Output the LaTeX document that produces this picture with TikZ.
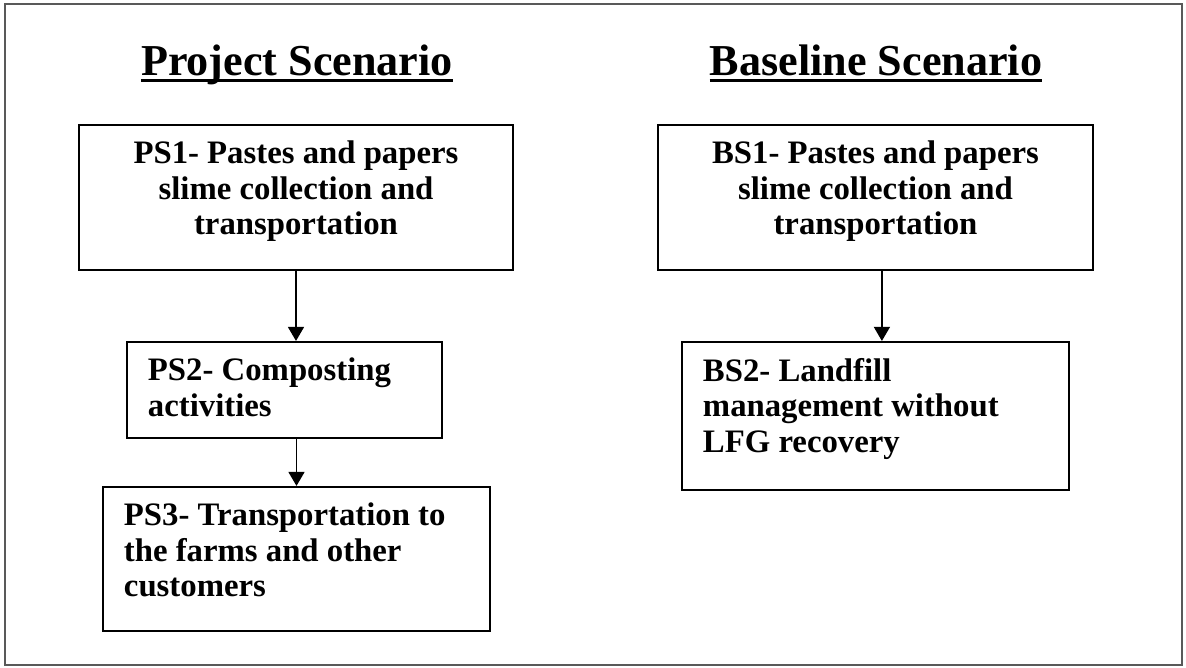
\documentclass[tikz,border=0pt]{standalone}
\usepackage{fontspec}
\setmainfont{Liberation Serif}
\usetikzlibrary{arrows.meta}
\def\boxbody(#1:#2)#3{\parbox[c][#2][t]{#1}{#3}}

\begin{document}
\begin{tikzpicture}[x=0.025cm, y=-0.025cm,
		stepbox/.style={draw, line width=1.5pt, inner xsep=0.525cm, inner ysep=0.4cm, font=\fontsize{23.3}{25.3}\selectfont\bfseries},
		heading/.style={inner sep=0, anchor=base, font=\fontsize{31.4}{34}\selectfont\bfseries},
		flow/.style={line width=1pt, -{Triangle[width=0.4cm,length=0.35cm]}}]
				\useasboundingbox (0, 0) rectangle (1186, 667);
				\draw[black!65, line width=1.4pt] (5, 4) rectangle (1182, 665);
				
				\node[heading] (pstitle) at (297, 75) {Project Scenario};
				\draw[line width=2pt] ([yshift=-0.14cm]pstitle.base west) -- ([yshift=-0.14cm]pstitle.base east);
				\node[heading] (bstitle) at (876, 75) {Baseline Scenario};
				\draw[line width=2pt] ([yshift=-0.14cm]bstitle.base west) -- ([yshift=-0.14cm]bstitle.base east);
				
				\node[stepbox] (ps1) at (296, 197.5) {\boxbody(9.8cm:2.825cm){\centering PS1- Pastes and papers\\ slime collection and\\ transportation}};
				\node[stepbox] (ps2) at (284.5, 390) {\boxbody(6.825cm:1.6cm){\raggedright PS2- Composting\\ activities}};
				\node[stepbox] (ps3) at (296.5, 559) {\boxbody(8.625cm:2.8cm){\raggedright PS3- Transportation to\\ the farms and other\\ customers}};
				
				\node[stepbox] (bs1) at (875.5, 197.5) {\boxbody(9.825cm:2.825cm){\centering BS1- Pastes and papers\\ slime collection and\\ transportation}};
				\node[stepbox] (bs2) at (875.5, 416) {\boxbody(8.625cm:2.9cm){\raggedright BS2- Landfill\\ management without\\ LFG recovery}};
				
				\draw[flow] (ps1.south) -- (ps1.south |- ps2.north);
				\draw[flow] (ps3.north |- ps2.south) -- (ps3.north);
				\draw[flow] ([xshift=0.16cm]bs1.south) -- ([xshift=0.16cm]bs1.south |- bs2.north);
			\end{tikzpicture}
\end{document}
